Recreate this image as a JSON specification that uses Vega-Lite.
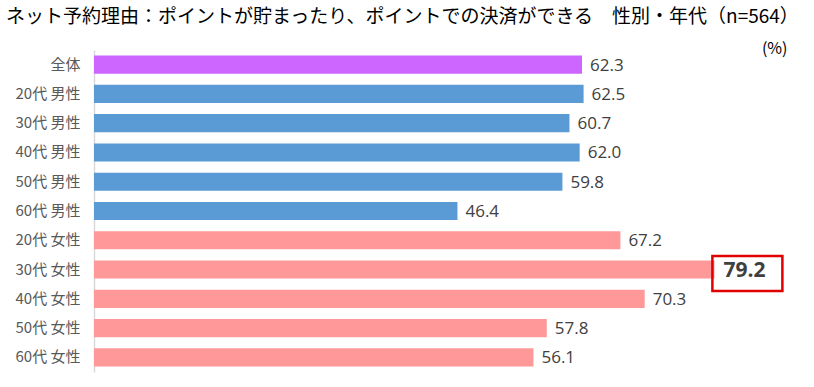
{
  "$schema": "https://vega.github.io/schema/vega-lite/v6.json",
  "autosize": "none",
  "width": 705,
  "height": 322,
  "padding": {"left": 94, "top": 50, "right": 15, "bottom": 15},
  "background": "white",
  "title": {
    "text": "ネット予約理由：ポイントが貯まったり、ポイントでの決済ができる　性別・年代（n=564）",
    "anchor": "start",
    "frame": "group",
    "dx": -88,
    "offset": 13,
    "font": "Noto Sans CJK JP",
    "fontSize": 19,
    "fontWeight": "normal",
    "color": "#000000"
  },
  "config": {"view": {"stroke": null}},
  "data": {
    "values": [
      {"label": "全体", "value": 62.3, "group": "全体", "hl": "no"},
      {"label": "20代 男性", "value": 62.5, "group": "男性", "hl": "no"},
      {"label": "30代 男性", "value": 60.7, "group": "男性", "hl": "no"},
      {"label": "40代 男性", "value": 62.0, "group": "男性", "hl": "no"},
      {"label": "50代 男性", "value": 59.8, "group": "男性", "hl": "no"},
      {"label": "60代 男性", "value": 46.4, "group": "男性", "hl": "no"},
      {"label": "20代 女性", "value": 67.2, "group": "女性", "hl": "no"},
      {"label": "30代 女性", "value": 79.2, "group": "女性", "hl": "yes"},
      {"label": "40代 女性", "value": 70.3, "group": "女性", "hl": "no"},
      {"label": "50代 女性", "value": 57.8, "group": "女性", "hl": "no"},
      {"label": "60代 女性", "value": 56.1, "group": "女性", "hl": "no"}
    ]
  },
  "encoding": {
    "y": {
      "field": "label",
      "type": "nominal",
      "sort": null,
      "scale": {"paddingInner": 0.38, "paddingOuter": 0.19},
      "axis": {
        "title": null,
        "ticks": false,
        "labelPadding": 14,
        "labelFont": "Noto Sans CJK JP",
        "labelFontSize": 15,
        "labelColor": "#595959",
        "domainColor": "#D9D9D9",
        "domainWidth": 1.5
      }
    },
    "x": {
      "field": "value",
      "type": "quantitative",
      "scale": {"domain": [0, 90], "nice": false},
      "axis": {
        "orient": "top",
        "labels": false,
        "ticks": false,
        "domain": false,
        "grid": false,
        "title": "(%)",
        "titleFont": "Noto Sans CJK JP",
        "titleFontSize": 16,
        "titleFontWeight": "normal",
        "titleColor": "#000000",
        "titleAlign": "right",
        "titleBaseline": "middle",
        "titleAngle": 0,
        "titleX": 693,
        "titleY": -2
      }
    }
  },
  "layer": [
    {
      "mark": {"type": "bar"},
      "encoding": {
        "color": {
          "field": "group",
          "type": "nominal",
          "scale": {"domain": ["全体", "男性", "女性"], "range": ["#CC66FF", "#5B9BD5", "#FF9999"]},
          "legend": null
        }
      }
    },
    {
      "transform": [{"filter": "datum.hl === 'no'"}],
      "mark": {"type": "text", "align": "left", "baseline": "middle", "dx": 8, "dy": 1, "font": "Open Sans", "fontSize": 17, "color": "#404040"},
      "encoding": {"text": {"field": "value", "type": "quantitative", "format": ".1f"}}
    },
    {
      "transform": [{"filter": "datum.hl === 'yes'"}],
      "mark": {"type": "text", "align": "left", "baseline": "middle", "dx": 9, "dy": 1, "font": "Open Sans", "fontSize": 21, "fontWeight": "bold", "color": "#404040"},
      "encoding": {"text": {"field": "value", "type": "quantitative", "format": ".1f"}}
    },
    {
      "transform": [{"filter": "datum.hl === 'yes'"}],
      "mark": {"type": "point", "shape": "M-1,-0.5H1V0.5H-1Z", "filled": false, "stroke": "#E00000", "strokeWidth": 2.5, "opacity": 1, "size": 4900, "xOffset": 33, "yOffset": 4},
      "encoding": {}
    }
  ]
}
